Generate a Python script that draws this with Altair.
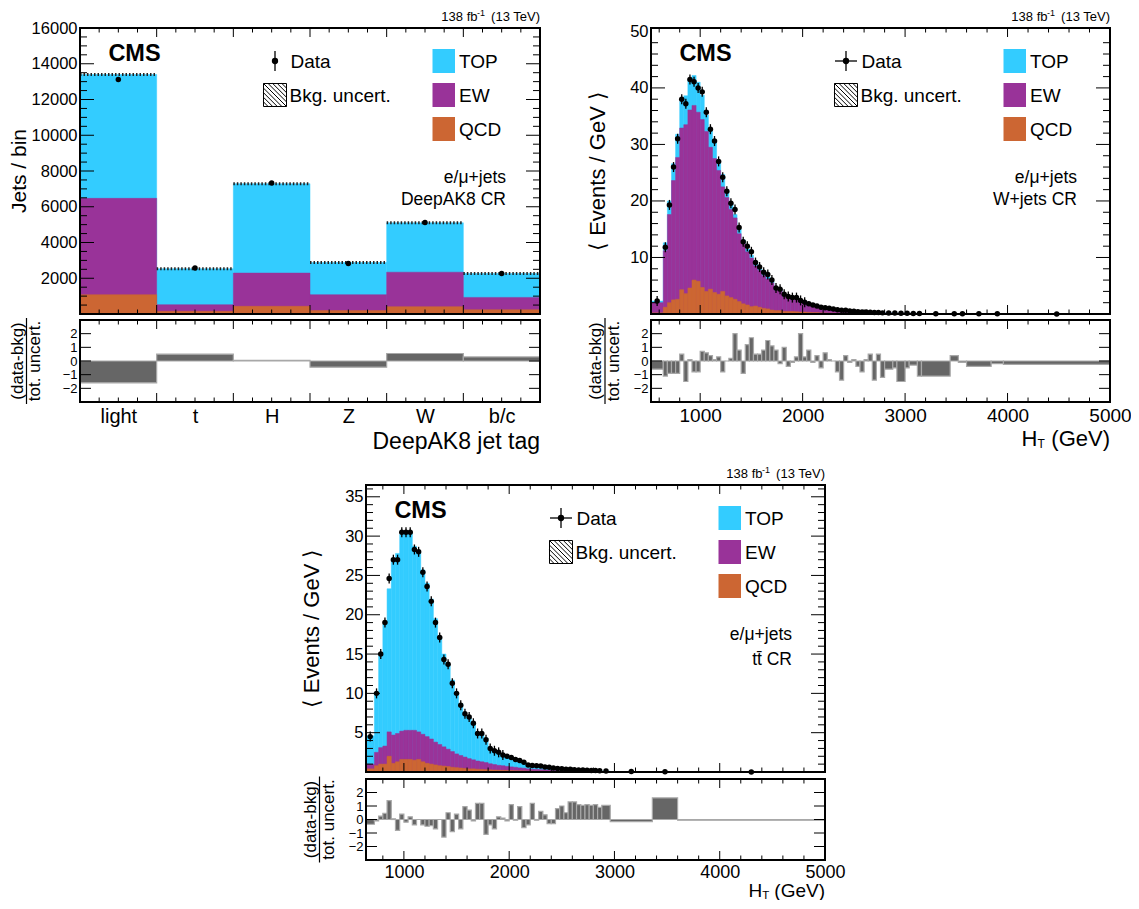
import altair as alt
import pandas as pd

FONT = "Liberation Sans"
C_TOP, C_EW, C_QCD = "#33ccff", "#993399", "#cc6633"
C_PULL, C_PULL_LINE = "#666666", "#a8a8a8"
leg_names = ["TOP", "EW", "QCD"]
leg_colors = [C_TOP, C_EW, C_QCD]

# ---------------- Panel A : DeepAK8 CR ----------------
tag_cats = ["light", "t", "H", "Z", "W", "b/c"]
tag_edges = [0, 1, 2, 3, 4, 5, 6]
tag_total = [13400, 2530, 7290, 2880, 5100, 2270]   # top of stack (TOP+EW+QCD)
tag_ew = [6470, 520, 2290, 1080, 2340, 930]         # top of EW (EW+QCD)
tag_qcd = [1080, 150, 430, 190, 410, 240]
tag_data = [13120, 2570, 7330, 2830, 5120, 2270]
tag_pull = [-1.6, 0.5, 0.05, -0.45, 0.55, 0.3]

# ---------------- Panel B : W+jets CR ----------------
wj_edges = [520, 640, 680, 720, 760, 800, 840, 880, 920, 960, 1000, 1040, 1080, 1120, 1160,
            1200, 1240, 1280, 1320, 1360, 1400, 1440, 1480, 1520, 1560, 1600, 1640, 1680, 1720,
            1760, 1800, 1840, 1880, 1920, 1960, 2000, 2040, 2080, 2120, 2160, 2200, 2240, 2280,
            2320, 2360, 2400, 2440, 2480, 2520, 2560, 2600, 2640, 2680, 2720, 2760, 2800, 2880,
            2920, 3000, 3040, 3120, 3160, 3440, 3520, 3600, 3840, 3960, 5000]
wj_total = [2.3, 12.6, 20.0, 26.6, 31.8, 37.6, 38.6, 41.4, 42.2, 41.0,
            38.7, 35.2, 32.4, 30.5, 26.8, 24.7, 21.7, 19.5, 17.6, 15.0,
            13.1, 11.5, 10.4, 8.9, 8.1, 7.2, 6.6, 5.8, 4.5, 4.45,
            3.35, 3.15, 2.9, 2.85, 2.2, 2.05, 1.75, 1.6, 1.38, 1.22,
            1.08, 1.0, 0.9, 0.8, 0.72, 0.63, 0.55, 0.5, 0.44, 0.4,
            0.35, 0.31, 0.29, 0.26, 0.23, 0.2, 0.17, 0.15, 0.13, 0.11,
            0.1, 0.075, 0.055, 0.05, 0.04, 0.03, 0.017]
wj_ew = [2.0, 11.2, 17.6, 23.6, 27.7, 32.9, 33.5, 36.1, 36.9, 35.7,
         34.4, 32.3, 29.5, 27.5, 25.4, 22.5, 20.6, 18.5, 17.0, 14.2,
         12.5, 11.0, 9.9, 8.5, 7.7, 6.8, 6.2, 5.5, 4.2, 4.15,
         3.1, 2.9, 2.7, 2.65, 2.05, 1.9, 1.6, 1.48, 1.27, 1.12,
         1.0, 0.92, 0.83, 0.74, 0.66, 0.58, 0.5, 0.46, 0.4, 0.37,
         0.32, 0.28, 0.26, 0.24, 0.21, 0.18, 0.155, 0.135, 0.12, 0.1,
         0.09, 0.068, 0.05, 0.045, 0.036, 0.027, 0.015]
wj_qcd = [0.2, 1.2, 2.0, 2.5, 2.6, 4.3, 3.6, 4.6, 6.0, 5.8,
          4.7, 4.0, 4.4, 3.8, 3.5, 4.0, 3.2, 2.9, 2.6, 2.2,
          1.8, 1.6, 1.3, 1.4, 1.2, 1.0, 0.9, 0.7, 0.6, 0.6,
          0.45, 0.45, 0.45, 0.4, 0.35, 0.35, 0.3, 0.25, 0.25, 0.2,
          0.18, 0.16, 0.14, 0.12, 0.11, 0.1, 0.09, 0.08, 0.07, 0.06,
          0.05, 0.05, 0.04, 0.04, 0.035, 0.03, 0.025, 0.02, 0.02, 0.015,
          0.015, 0.01, 0.008, 0.007, 0.005, 0.004, 0.002]
wj_data = [2.3, 11.8, 19.3, 26.0, 31.0, 38.0, 37.2, 41.5, 41.1, 40.0,
           39.3, 35.7, 32.7, 30.6, 27.0, 24.2, 21.7, 19.6, 18.5, 15.3,
           12.8, 12.0, 11.0, 9.1, 8.3, 7.4, 7.0, 6.0, 4.6, 4.4,
           3.5, 3.1, 2.9, 2.9, 2.4, 2.1, 1.8, 1.6, 1.4, 1.2,
           1.1, 1.0, 0.9, 0.75, 0.65, 0.65, 0.55, 0.5, 0.42, 0.36,
           0.35, 0.33, 0.25, 0.27, 0.2, 0.18, 0.16, 0.12, 0.12, 0.1,
           0.08, 0.06, 0.06, 0.05, 0.035, 0.03, 0.015]
wj_pull = [-0.6, -1.1, -0.9, -0.9, -0.9, 0.5, -1.5, 0.1, -0.8, -0.8,
           0.7, 0.6, 0.4, 0.1, 0.3, -0.8, 0.0, 0.2, 2.0, 0.8,
           -0.9, 1.2, 1.7, 0.5, 0.5, 0.8, 1.5, 1.1, 0.8, -0.2,
           1.0, -0.4, -0.1, 0.3, 2.0, 0.3, 0.8, -0.1, 0.4, -0.5,
           0.6, 0.1, 0.0, -0.8, -1.4, 0.4, -0.1, 0.1, -0.4, -0.8,
           0.1, 0.5, -1.4, 0.5, -1.2, -0.6, -0.5, -1.5, -0.5, -0.3,
           -1.1, -1.1, 0.4, -0.1, -0.4, -0.2, -0.25]

# ---------------- Panel C : ttbar CR ----------------
tt_edges = [640, 720, 760, 800, 840, 880, 920, 960, 1000, 1040, 1080, 1120, 1160, 1200, 1240,
            1280, 1320, 1360, 1400, 1440, 1480, 1520, 1560, 1600, 1640, 1680, 1720, 1760, 1800,
            1840, 1880, 1920, 1960, 2000, 2040, 2080, 2120, 2160, 2200, 2240, 2280, 2320, 2360,
            2400, 2440, 2480, 2520, 2560, 2600, 2640, 2680, 2720, 2760, 2800, 2840, 2880, 2960,
            3360, 3600, 5000]
tt_total = [4.6, 10.1, 14.8, 18.8, 23.3, 27.0, 27.8, 30.2, 30.6, 30.4,
            28.7, 28.0, 25.7, 24.0, 22.0, 19.5, 17.1, 15.0, 13.5, 11.7,
            9.9, 8.7, 7.2, 6.85, 6.2, 4.75, 4.75, 4.3, 3.05, 2.75,
            2.48, 2.14, 2.0, 1.75, 1.6, 1.38, 1.28, 0.92, 0.77, 0.8,
            0.73, 0.64, 0.61, 0.51, 0.43, 0.37, 0.35, 0.3, 0.26, 0.24,
            0.21, 0.19, 0.17, 0.155, 0.14, 0.115, 0.062, 0.025, 0.008]
tt_ew = [1.0, 2.5, 3.1, 3.3, 5.1, 4.7, 4.9, 5.2, 5.3, 5.3,
         5.3, 5.1, 4.8, 4.5, 4.2, 3.8, 3.5, 3.2, 2.9, 2.6,
         2.3, 2.1, 1.9, 1.7, 1.55, 1.4, 1.3, 1.2, 1.05, 0.95,
         0.85, 0.8, 0.72, 0.65, 0.6, 0.52, 0.48, 0.4, 0.35, 0.33,
         0.3, 0.27, 0.25, 0.22, 0.2, 0.18, 0.16, 0.14, 0.12, 0.11,
         0.1, 0.09, 0.08, 0.07, 0.065, 0.055, 0.03, 0.012, 0.004]
tt_qcd = [0.4, 0.8, 1.0, 1.0, 2.0, 1.1, 1.3, 1.6, 1.6, 1.6,
          1.5, 1.6, 1.3, 1.1, 1.0, 0.9, 0.8, 0.75, 0.7, 0.6,
          0.55, 0.5, 0.45, 0.4, 0.4, 0.35, 0.33, 0.3, 0.28, 0.25,
          0.23, 0.21, 0.2, 0.18, 0.16, 0.15, 0.14, 0.12, 0.11, 0.1,
          0.09, 0.08, 0.075, 0.07, 0.06, 0.055, 0.05, 0.045, 0.04, 0.035,
          0.03, 0.03, 0.025, 0.02, 0.02, 0.018, 0.01, 0.005, 0.001]
tt_data = [4.5, 10.0, 15.0, 19.0, 24.6, 27.0, 27.0, 30.5, 30.5, 30.5,
           28.3, 28.0, 25.4, 23.6, 21.7, 19.0, 17.1, 14.3, 13.7, 11.3,
           10.0, 8.5, 7.4, 7.0, 6.2, 4.9, 4.9, 4.1, 3.0, 2.7,
           2.5, 2.15, 2.0, 1.85, 1.6, 1.45, 1.25, 0.9, 0.82, 0.8,
           0.75, 0.65, 0.6, 0.5, 0.45, 0.4, 0.36, 0.34, 0.3, 0.27,
           0.24, 0.22, 0.2, 0.18, 0.16, 0.13, 0.06, 0.04, 0.008]
tt_pull = [-0.35, -0.1, 0.25, 0.45, 1.4, 0.05, -0.8, 0.4, -0.2, 0.2,
           -0.4, 0.0, -0.4, -0.5, -0.45, -0.7, 0.0, -1.3, 0.5, -0.9,
           0.4, -0.7, 0.95, 0.7, -0.1, 1.2, 1.2, -1.1, -0.4, -0.7,
           0.2, 0.1, -0.1, 1.1, -0.05, 0.95, -0.6, -0.4, 1.2, -0.05,
           0.6, 0.35, -0.3, -0.3, 0.8, 1.0, 0.5, 1.3, 1.3, 1.1,
           1.05, 1.1, 1.05, 1.1, 0.9, 1.05, -0.15, 1.6, -0.05]

# axis tick positions
tag_y_labels = [2000, 4000, 6000, 8000, 10000, 12000, 14000, 16000]
tag_y_major = [2000, 4000, 6000, 8000, 10000, 12000, 14000]
tag_y_minor = [v for v in range(500, 16000, 500) if v % 2000]
tag_x_major = [1, 2, 3, 4, 5]
tag_x_minor = [i + q for i in range(6) for q in (0.25, 0.5, 0.75)]
wj_y_labels = [10, 20, 30, 40, 50]
wj_y_minor = [v for v in range(2, 51, 2) if v % 10]
tt_y_labels = [5, 10, 15, 20, 25, 30, 35]
tt_y_minor = [v for v in range(1, 37) if v % 5]
ht_labels = [1000, 2000, 3000, 4000, 5000]
ht_major = [1000, 2000, 3000, 4000]
ht_minor = [v for v in range(600, 5000, 200) if v % 1000]
pull_labels = [-2, -1, 0, 1, 2]

TOT_W, TOT_H = 1030, 832
ONE = pd.DataFrame({"k": [0]})


def make_df(edges, total, ew, qcd, data, pull):
    n = len(total)
    assert len(edges) == n + 1 and len(ew) == n and len(qcd) == n and len(data) == n and len(pull) == n
    lo, hi = edges[:-1], edges[1:]
    return pd.DataFrame({"lo": lo, "hi": hi, "c": [(a + b) / 2 for a, b in zip(lo, hi)],
                         "tot": total, "ew": ew, "qcd": qcd, "d": data, "pull": pull, "z": [0] * n})


def txt(s, x, y, size, weight="normal", align="left", angle=0):
    return alt.Chart(pd.DataFrame({"t": [s]})).mark_text(
        font=FONT, fontSize=size, fontWeight=weight, align=align, baseline="middle",
        angle=angle, color="black").encode(x=alt.value(x), y=alt.value(y), text="t:N")


def seg(x1, y1, x2, y2, width=1.3):
    return alt.Chart(ONE).mark_rule(color="black", strokeWidth=width).encode(
        x=alt.value(x1), y=alt.value(y1), x2=alt.value(x2), y2=alt.value(y2))


def frame(g):
    return alt.Chart(ONE).mark_rect(fill="transparent", stroke="black", strokeWidth=2).encode(
        x=alt.value(g["ox"]), x2=alt.value(g["ox"] + g["W"]),
        y=alt.value(g["oy"]), y2=alt.value(g["oy"] + g["H"]))


def hatch_path():
    parts = ["M-1,-1L1,-1L1,1L-1,1Z"]
    for k in [-1.6, -1.2, -0.8, -0.4, 0.0, 0.4, 0.8, 1.2, 1.6]:
        x0 = max(-1.0, -1.0 - k)
        x1 = min(1.0, 1.0 - k)
        parts.append("M%.2f,%.2fL%.2f,%.2f" % (x0, x0 + k, x1, x1 + k))
    return "".join(parts)


HATCH = hatch_path()


def ticks(vals, side, L, g, xs, ys, xax, yax, sw=1.0):
    ox, oy, W, H = g["ox"], g["oy"], g["W"], g["H"]
    m = alt.Chart(pd.DataFrame({"v": list(vals)})).mark_rule(color="black", strokeWidth=sw)
    if side in ("left", "right"):
        x1, x2 = (ox, ox + L) if side == "left" else (ox + W - L, ox + W)
        return m.encode(y=alt.Y("v:Q", scale=ys, axis=yax), x=alt.value(x1), x2=alt.value(x2))
    y1, y2 = (oy + H - L, oy + H) if side == "bottom" else (oy, oy + L)
    return m.encode(x=alt.X("v:Q", scale=xs, axis=xax), y=alt.value(y1), y2=alt.value(y2))


def legend(g, cross, region, reg_y):
    ox, oy, W = g["ox"], g["oy"], g["W"]
    L = [txt("CMS", ox + 54.5, oy + 26, 23.5, weight="bold", align="center"),
         seg(ox + 195, oy + 23, ox + 195, oy + 43)]
    if cross:
        L.append(seg(ox + 184, oy + 33, ox + 206, oy + 33))
    L.append(alt.Chart(ONE).mark_circle(size=40, color="black", opacity=1).encode(
        x=alt.value(ox + 195), y=alt.value(oy + 33)))
    L.append(txt("Data", ox + 210.5, oy + 33.5, 19))
    L.append(alt.Chart(ONE).mark_point(shape=HATCH, size=23 * 23, filled=False, stroke="black",
                                       strokeWidth=1, opacity=1).encode(
        x=alt.value(ox + 195), y=alt.value(oy + 67)))
    L.append(txt("Bkg. uncert.", ox + 209.5, oy + 67.5, 19))
    for i, (nm, col) in enumerate(zip(leg_names, leg_colors)):
        y0 = oy + 21 + 34 * i
        L.append(alt.Chart(ONE).mark_rect(fill=col).encode(
            x=alt.value(ox + 352.5), x2=alt.value(ox + 375), y=alt.value(y0), y2=alt.value(y0 + 24)))
        L.append(txt(nm, ox + 379, y0 + 12.5, 19))
    L.append(txt("e/μ+jets", ox + 426, oy + 150, 17.5, align="right"))
    L.append(txt(region, ox + 426, oy + reg_y, 17.5, align="right"))
    L.append(txt("(13 TeV)", ox + W, oy - 11, 13, align="right"))
    L.append(txt("-1", ox + W - 55, oy - 15.5, 9, align="right"))
    L.append(txt("138 fb", ox + W - 62.5, oy - 11, 13, align="right"))
    return L


def y_axis(values, g, size):
    return alt.Axis(values=values, orient="left", offset=-g["ox"], ticks=False, tickSize=0,
                    domain=False, grid=False, labelFontSize=size, labelPadding=3, labelFlush=False,
                    labelOverlap=False, labelColor="black", labelFont=FONT, title=None, format="d")


def x_axis(values, g, size, expr=None, pad=4):
    kw = dict(values=values, orient="bottom", offset=g["oy"] + g["H"] - TOT_H, ticks=False,
              tickSize=0, domain=False, grid=False, labelFontSize=size, labelPadding=pad,
              labelFlush=False, labelOverlap=False, labelColor="black", labelFont=FONT,
              title=None)
    if expr:
        kw["labelExpr"] = expr
    else:
        kw["format"] = "d"
    return alt.Axis(**kw)


def main_panel(df, g, xdom, ydom, ylab, ymaj, ymin, xmaj, xmin, ytitle, ytx, ytsize,
               region, reg_y, cross, band):
    ox, oy, W, H = g["ox"], g["oy"], g["W"], g["H"]
    xs = alt.Scale(domain=xdom, range=[ox, ox + W], nice=False, zero=False)
    ys = alt.Scale(domain=ydom, range=[oy + H, oy], nice=False, zero=False)
    yax = y_axis(ylab, g, 16.5)
    xax = None
    X = lambda f: alt.X(f, type="quantitative", scale=xs, axis=xax)
    Y = lambda f: alt.Y(f, type="quantitative", scale=ys, axis=yax)
    base = alt.Chart(df)
    layers = [
        base.mark_rect(fill=C_TOP, stroke=C_TOP, strokeWidth=0.5).encode(
            x=X("lo"), x2="hi", y=Y("tot"), y2="z"),
        base.mark_rect(fill=C_EW, stroke=C_EW, strokeWidth=0.5).encode(
            x=X("lo"), x2="hi", y=Y("ew"), y2="z"),
        base.mark_rect(fill=C_QCD, stroke=C_QCD, strokeWidth=0.5).encode(
            x=X("lo"), x2="hi", y=Y("qcd"), y2="z"),
    ]
    if band:
        layers.append(base.mark_rule(color="#222222", strokeWidth=3, strokeDash=[1.5, 2]).encode(
            x=X("lo"), x2="hi", y=Y("tot")))
    for vals, side, L in [(ymaj, "left", 14), (ymaj, "right", 14), (ymin, "left", 7),
                          (ymin, "right", 7), (xmaj, "bottom", 9), (xmaj, "top", 9),
                          (xmin, "bottom", 4.5), (xmin, "top", 4.5)]:
        layers.append(ticks(vals, side, L, g, xs, ys, xax, yax))
    if cross:
        layers.append(base.transform_filter("datum.d > 2").mark_tick(
            orient="vertical", size=10, thickness=1.3, color="black", opacity=1).encode(
            x=X("c"), y=Y("d")))
    layers.append(base.mark_circle(size=30, color="black", opacity=1).encode(x=X("c"), y=Y("d")))
    layers.append(frame(g))
    layers.append(txt(ytitle, ox + ytx, oy + H / 2, ytsize, angle=270, align="center"))
    layers += legend(g, cross, region, reg_y)
    return alt.layer(*layers)


def ratio_panel(df, g, xdom, xax, xmaj, xmin, tpos, xtitle):
    ox, oy, W, H = g["ox"], g["oy"], g["W"], g["H"]
    xs = alt.Scale(domain=xdom, range=[ox, ox + W], nice=False, zero=False)
    ys = alt.Scale(domain=[-3, 3], range=[oy + H, oy], nice=False, zero=False)
    yax = y_axis(pull_labels, g, 13)
    base = alt.Chart(df)
    layers = [
        base.mark_rect(fill=C_PULL, stroke=C_PULL_LINE, strokeWidth=1.2).encode(
            x=alt.X("lo:Q", scale=xs, axis=xax), x2="hi",
            y=alt.Y("pull:Q", scale=ys, axis=yax), y2="z"),
    ]
    for vals, side, L in [(pull_labels, "left", 11), (pull_labels, "right", 11),
                          (xmaj, "bottom", 9), (xmaj, "top", 9),
                          (xmin, "bottom", 4.5), (xmin, "top", 4.5)]:
        layers.append(ticks(vals, side, L, g, xs, ys, xax, yax))
    layers += [
        frame(g),
        txt("(data-bkg)", ox + tpos[0], oy + H / 2, 17, angle=270, align="center"),
        seg(ox + tpos[1], oy + H / 2 - 43, ox + tpos[1], oy + H / 2 + 43, width=1.2),
        txt("tot. uncert.", ox + tpos[2], oy + H / 2, 17, angle=270, align="center"),
    ]
    layers += xtitle(g)
    return alt.layer(*layers)


def ht_title(dy, size, sub):
    def f(g):
        x1, y1 = g["ox"] + g["W"], g["oy"] + g["H"] + dy
        return [txt("(GeV)", x1, y1, size, align="right"),
                txt("H", x1 - 3.3 * size, y1, size, align="right"),
                txt("T", x1 - 3.3 * size, y1 + 4.5, sub, align="left")]
    return f


def tag_title(g):
    return [txt("DeepAK8 jet tag", g["ox"] + g["W"], g["oy"] + g["H"] + 40, 23, align="right")]


gA_m = dict(ox=0, oy=0, W=460, H=286)
gA_r = dict(ox=0, oy=292, W=460, H=82)
gB_m = dict(ox=571, oy=0, W=459, H=286)
gB_r = dict(ox=571, oy=292, W=459, H=82)
gC_m = dict(ox=286, oy=457, W=459, H=287)
gC_r = dict(ox=286, oy=751, W=459, H=81)

tag_df = make_df(tag_edges, tag_total, tag_ew, tag_qcd, tag_data, tag_pull)
wj_df = make_df(wj_edges, wj_total, wj_ew, wj_qcd, wj_data, wj_pull)
tt_df = make_df(tt_edges, tt_total, tt_ew, tt_qcd, tt_data, tt_pull)

cat_expr = "[" + ",".join("'%s'" % c for c in tag_cats) + "][floor(datum.value)]"
tt_minor = [v for v in ht_minor if v > 640]

A_main = main_panel(tag_df, gA_m, [0, 6], [0, 16000], tag_y_labels, tag_y_major, tag_y_minor,
                    tag_x_major, tag_x_minor, "Jets / bin", -60, 21, "DeepAK8 CR", 172, False, True)
B_main = main_panel(wj_df, gB_m, [520, 5000], [0, 50.6], wj_y_labels, wj_y_labels[:-1], wj_y_minor,
                    ht_major, ht_minor, "⟨ Events / GeV ⟩", -53.5, 22, "W+jets CR", 172, True, False)
C_main = main_panel(tt_df, gC_m, [640, 5000], [0, 36.5], tt_y_labels, tt_y_labels, tt_y_minor,
                    ht_major, tt_minor, "⟨ Events / GeV ⟩", -54, 22, "tt̄ CR", 175, True, False)

A_ratio = ratio_panel(tag_df, gA_r, [0, 6],
                      x_axis([0.5, 1.5, 2.5, 3.5, 4.5, 5.5], gA_r, 20, cat_expr),
                      tag_x_major, tag_x_minor, (-62, -53.5, -45), tag_title)
B_ratio = ratio_panel(wj_df, gB_r, [520, 5000], x_axis(ht_labels, gB_r, 19), ht_major, ht_minor,
                      (-55, -46, -37), ht_title(37, 22, 12))
C_ratio = ratio_panel(tt_df, gC_r, [640, 5000], x_axis(ht_labels, gC_r, 18, pad=3), ht_major,
                      tt_minor, (-55.5, -46.5, -37.5), ht_title(31, 19, 11.5))

chart = alt.layer(A_main, A_ratio, B_main, B_ratio, C_main, C_ratio).resolve_scale(
    x="independent", y="independent").resolve_axis(
    x="independent", y="independent").properties(
    width=TOT_W, height=TOT_H,
    autosize=alt.AutoSizeParams(type="none"),
    padding={"left": 72, "top": 20, "right": 21, "bottom": 40},
).configure(font=FONT).configure_view(strokeWidth=0)

chart.save("out.html", embed_options={"renderer": "svg", "actions": False})
